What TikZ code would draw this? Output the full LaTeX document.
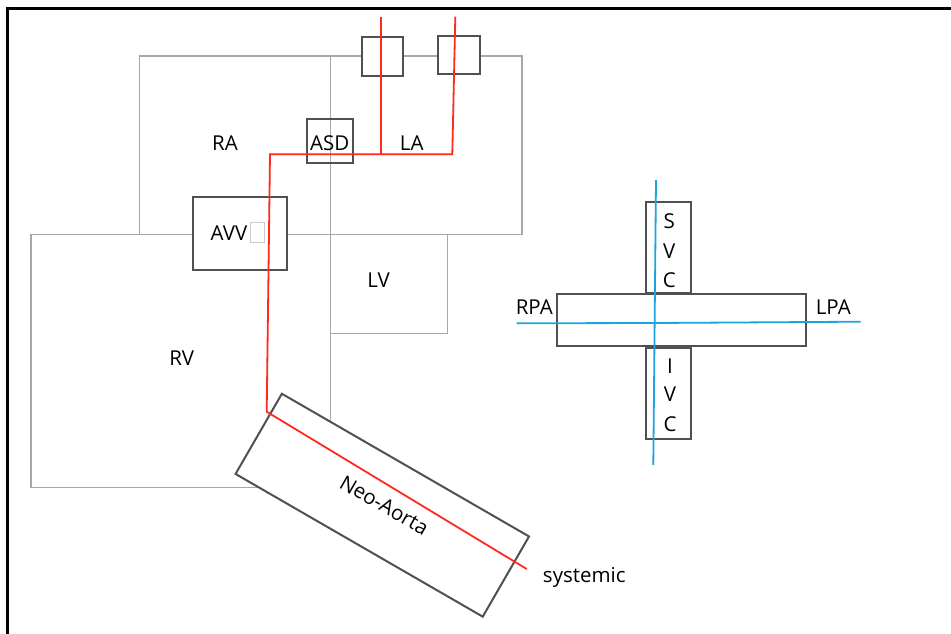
\documentclass[tikz,border=0pt]{standalone}
\usepackage{fontspec}
\setmainfont{Open Sans}
\definecolor{chambergray}{HTML}{A8A8A8}
\definecolor{boxgray}{HTML}{505050}
\definecolor{flowred}{HTML}{FF2A1A}
\definecolor{flowblue}{HTML}{1CA3E0}
\tikzset{
  chamber/.style={draw=chambergray, line width=1.5pt, inner sep=0pt, rectangle},
  darkbox/.style={draw=boxgray, line width=2pt, inner sep=0pt, rectangle},
  lbl/.style={inner sep=0pt, font=\fontsize{20.5}{24}\selectfont},
  redflow/.style={draw=flowred, line width=1.8pt},
  blueflow/.style={draw=flowblue, line width=1.8pt},
}
\begin{document}
\begin{tikzpicture}[x=1pt,y=-1pt]
\useasboundingbox (0,0) rectangle (951,634);
% frame
\draw[line width=3pt, line cap=rect] (951,9) -- (7,9) -- (7,634);
% chambers
\node[chamber, minimum width=191pt, minimum height=178.7pt] (ra) at (234.8,145.35) {};
\node[chamber, minimum width=191.7pt, minimum height=178.7pt] (la) at (426.15,145.35) {};
\node[chamber, minimum width=299.3pt, minimum height=253pt] (rv) at (180.65,361.2) {};
\node[chamber, minimum width=117.4pt, minimum height=98.6pt] (lv) at (389,284) {};
% dark boxes
\node[darkbox, fill=white, minimum width=41.6pt, minimum height=38.7pt] (pv1) at (382.5,56.7) {};
\node[darkbox, fill=white, minimum width=41.7pt, minimum height=38.6pt] (pv2) at (458.8,55) {};
\node[darkbox, minimum width=46pt, minimum height=44.3pt] (asd) at (329.7,141.2) {};
\node[darkbox, fill=white, minimum width=93.7pt, minimum height=73.3pt] (avv) at (240.2,233.3) {};
\node[darkbox, fill=white, minimum width=285.4pt, minimum height=92.6pt, rotate=-30] (aorta) at (382.3,505.2) {};
% labels
\node[lbl] (raL) at (225,142.7) {RA};
\node[lbl] (laL) at (411.7,142.7) {LA};
\node[lbl] (asdL) at (329.7,142.7) {ASD};
\node[lbl] (avvL) at (229,233) {AVV};
\node[draw=chambergray!60, line width=0.6pt, minimum width=13.6pt, minimum height=20.3pt, inner sep=0pt] (glyph) at (257.5,232.2) {};
\node[lbl] (lvL) at (378.5,280.5) {LV};
\node[lbl] (rvL) at (181.7,358.3) {RV};
\node[lbl, rotate=-30] (aortaL) at (384.3,505.3) {Neo-Aorta};
\node[lbl] (sysL) at (584.3,577.2) {systemic};
% red flow
\coordinate (r1) at (380.7,16.7);
\coordinate (r2) at (455.3,16.7);
\coordinate (j1) at (380.7,154.3);
\coordinate (j2) at (452.3,154.3);
\coordinate (c1) at (270,154.3);
\coordinate (c2) at (266.7,411.7);
\coordinate (sys) at (526.7,569);
\draw[redflow] (r2) -- (j2) -- (c1) -- (c2) -- (sys);
\draw[redflow] (r1) -- (j1);
% cross
\node[darkbox, minimum width=44.7pt, minimum height=91.6pt] (svc) at (668.35,247.5) {};
\node[darkbox, minimum width=249.3pt, minimum height=52pt] (pa) at (681.35,320) {};
\node[darkbox, minimum width=44.7pt, minimum height=91.6pt] (ivc) at (668.35,393.5) {};
\coordinate (b1) at (656,180);
\coordinate (b2) at (653.3,465);
\coordinate (b3) at (516.7,323.3);
\coordinate (bc) at (654.5,323);
\coordinate (b4) at (860.7,321.7);
\draw[blueflow] (b1) -- (b2);
\draw[blueflow] (b3) -- (bc) -- (b4);
\node[lbl] (sL) at (669.3,220.7) {S};
\node[lbl] (v1L) at (669.3,250.7) {V};
\node[lbl] (c1L) at (669.3,280) {C};
\node[lbl] (iL) at (670,366) {I};
\node[lbl] (v2L) at (670,394) {V};
\node[lbl] (c2L) at (670,424) {C};
\node[lbl] (rpaL) at (534.3,307.3) {RPA};
\node[lbl] (lpaL) at (833.3,307.3) {LPA};
\end{tikzpicture}
\end{document}
